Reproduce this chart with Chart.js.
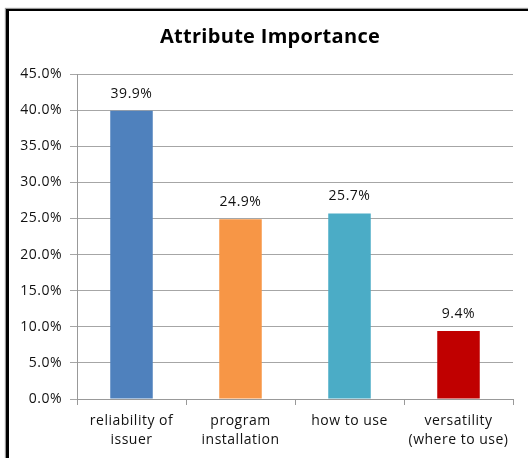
<!DOCTYPE html>
<html>
<head>
<meta charset="utf-8">
<script src="https://cdn.jsdelivr.net/npm/chart.js@4.4.1/dist/chart.umd.min.js"></script>
<style>
  html, body { margin: 0; padding: 0; background: #fff; overflow: hidden; }
  #wrap { position: relative; width: 528px; height: 458px; }
  #frame {
    position: absolute; left: 6px; top: 9px; width: 600px; height: 600px;
    border-left: 3px solid #000; border-top: 2px solid #000;
    box-shadow: -1px -1px 1px #999;
  }
  canvas { position: absolute; left: 0; top: 0; }
</style>
</head>
<body>
<div id="wrap">
  <div id="frame"></div>
  <canvas id="chart" width="528" height="458"></canvas>
</div>
<script>
const chartTitle = "Attribute Importance";
const categories = [["reliability of", "issuer"], ["program", "installation"], "how to use", ["versatility", "(where to use)"]];
const importance = [39.9, 24.9, 25.7, 9.4];
const barColors = ["#4F81BD", "#F79646", "#4BACC6", "#C00000"];
const yTicks = [0, 5, 10, 15, 20, 25, 30, 35, 40, 45];

const fontFamily = "'Open Sans', Lato, sans-serif";

// wider letter spacing, closer to the original's Calibri look
const spacing = {
  id: "spacing",
  beforeDraw(chart) { chart.ctx.letterSpacing = "0.5px"; }
};

// title sits centred on the whole frame, not on the plot
const frameTitle = {
  id: "frameTitle",
  afterDraw(chart) {
    const ctx = chart.ctx;
    ctx.save();
    ctx.letterSpacing = "0.3px";
    ctx.font = "bold 20px " + fontFamily;
    ctx.fillStyle = "#000";
    ctx.textAlign = "center";
    ctx.textBaseline = "middle";
    ctx.fillText(chartTitle, 270, 37);
    ctx.restore();
  }
};

// draws the value above each bar
const valueLabels = {
  id: "valueLabels",
  afterDatasetsDraw(chart) {
    const ctx = chart.ctx;
    const meta = chart.getDatasetMeta(0);
    ctx.save();
    ctx.letterSpacing = "0.5px";
    ctx.font = "14px " + fontFamily;
    ctx.fillStyle = "#111";
    ctx.textAlign = "center";
    ctx.textBaseline = "middle";
    meta.data.forEach((bar, i) => {
      ctx.fillText(importance[i].toFixed(1) + "%", bar.x, bar.y - 17);
    });
    ctx.restore();
  }
};

new Chart(document.getElementById("chart"), {
  type: "bar",
  data: {
    labels: categories,
    datasets: [{
      data: importance,
      backgroundColor: barColors,
      borderWidth: 0,
      categoryPercentage: 1,
      barPercentage: 0.39
    }]
  },
  options: {
    responsive: false,
    animation: false,
    layout: { padding: { left: 5, right: 15, top: 74, bottom: 0 } },
    plugins: {
      legend: { display: false },
      tooltip: { enabled: false },
      title: { display: false }
    },
    scales: {
      x: {
        grid: { drawOnChartArea: false, drawTicks: true, tickLength: 6, color: "#999" },
        border: { display: true, color: "#999" },
        ticks: {
          color: "#111",
          font: { family: fontFamily, size: 14, lineHeight: 1.4 },
          padding: 6,
          maxRotation: 0
        },
        afterFit(scale) { scale.height = 59; }
      },
      y: {
        min: 0,
        max: 45,
        afterBuildTicks(scale) { scale.ticks = yTicks.map(v => ({ value: v })); },
        grid: { color: "#a6a6a6", tickLength: 7 },
        border: { display: true, color: "#999" },
        ticks: {
          color: "#111",
          font: { family: fontFamily, size: 14 },
          padding: 8,
          callback: v => v.toFixed(1) + "%"
        },
        afterFit(scale) { scale.width = 72; }
      }
    }
  },
  plugins: [spacing, valueLabels, frameTitle]
});
</script>
</body>
</html>
